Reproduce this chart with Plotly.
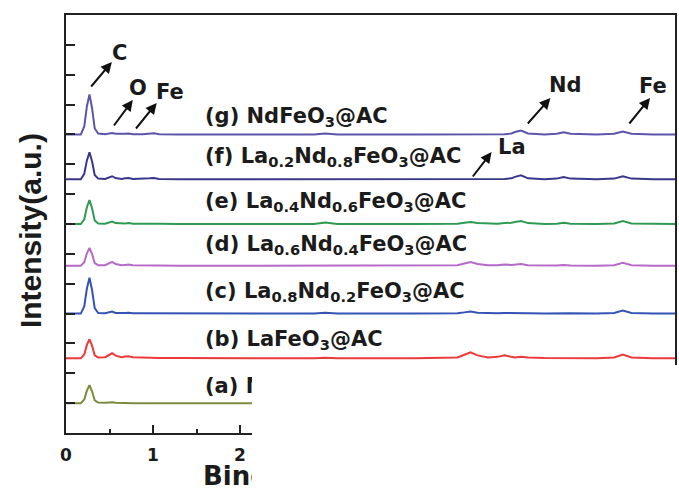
import plotly.graph_objects as go

# ---- data -------------------------------------------------------------
energy_kev = [0.00, 0.17, 0.21, 0.24, 0.27, 0.30, 0.33, 0.37, 0.45, 0.50,
              0.53, 0.57, 0.64, 0.68, 0.72, 0.77, 0.88, 0.96, 1.01, 1.07,
              1.30, 2.00, 2.85, 2.98, 3.12, 4.00, 4.50, 4.58, 4.65, 4.73,
              4.85, 4.96, 5.04, 5.12, 5.16, 5.23, 5.31, 5.50, 5.64, 5.72,
              5.80, 6.10, 6.30, 6.40, 6.50, 6.75, 7.00]

sample_names = ["a", "b", "c", "d", "e", "f", "g"]
sample_labels = [
    "(a) MAC",
    "(b) LaFeO<sub>3</sub>@AC",
    "(c) La<sub>0.8</sub>Nd<sub>0.2</sub>FeO<sub>3</sub>@AC",
    "(d) La<sub>0.6</sub>Nd<sub>0.4</sub>FeO<sub>3</sub>@AC",
    "(e) La<sub>0.4</sub>Nd<sub>0.6</sub>FeO<sub>3</sub>@AC",
    "(f) La<sub>0.2</sub>Nd<sub>0.8</sub>FeO<sub>3</sub>@AC",
    "(g) NdFeO<sub>3</sub>@AC",
]
offsets = [1.0, 2.5, 4.0, 5.6, 7.0, 8.5, 10.0]

counts_a = [0, 0, 0.12, 0.42, 0.60, 0.39, 0.09, 0.02, 0.01, 0.02,
            0.03, 0.01, 0, 0, 0.01, 0, 0, 0, 0, 0,
            0, 0, 0, 0, 0, 0, 0, 0, 0, 0,
            0, 0, 0, 0, 0, 0, 0, 0, 0, 0,
            0, 0, 0, 0, 0, 0, 0]
counts_b = [0, 0, 0.13, 0.45, 0.64, 0.42, 0.10, 0.03, 0.04, 0.12,
            0.17, 0.09, 0.04, 0.06, 0.07, 0.04, 0.02, 0.02, 0.02, 0.01,
            0.01, 0, 0, 0.02, 0, 0, 0.03, 0.12, 0.20, 0.10,
            0.03, 0.05, 0.10, 0.05, 0.03, 0.05, 0.03, 0.01, 0.01, 0.02,
            0.01, 0, 0.03, 0.13, 0.03, 0, 0]
counts_c = [0, 0, 0.24, 0.84, 1.20, 0.78, 0.18, 0.02, 0.01, 0.04,
            0.07, 0.02, 0.01, 0.02, 0.03, 0.01, 0.01, 0.01, 0.01, 0,
            0, 0, 0, 0.03, 0, 0, 0.01, 0.04, 0.07, 0.03,
            0.01, 0.01, 0.02, 0.02, 0.02, 0.03, 0.01, 0, 0.01, 0.02,
            0.01, 0, 0.02, 0.10, 0.02, 0, 0]
counts_d = [0, 0, 0.12, 0.42, 0.60, 0.39, 0.09, 0.02, 0.02, 0.08,
            0.13, 0.06, 0.02, 0.03, 0.04, 0.02, 0.01, 0.01, 0.02, 0.01,
            0, 0, 0, 0.02, 0, 0, 0.02, 0.08, 0.13, 0.06,
            0.02, 0.02, 0.04, 0.03, 0.05, 0.06, 0.02, 0, 0.01, 0.03,
            0.01, 0, 0.02, 0.10, 0.02, 0, 0]
counts_e = [0, 0, 0.16, 0.56, 0.80, 0.52, 0.12, 0.02, 0.01, 0.04,
            0.08, 0.03, 0.01, 0.02, 0.03, 0.01, 0.01, 0.02, 0.02, 0.01,
            0, 0, 0, 0.05, 0, 0, 0.01, 0.04, 0.07, 0.03,
            0.01, 0.01, 0.03, 0.04, 0.07, 0.10, 0.03, 0, 0.01, 0.04,
            0.01, 0, 0.02, 0.10, 0.02, 0, 0]
counts_f = [0, 0, 0.18, 0.63, 0.90, 0.59, 0.14, 0.02, 0.01, 0.06,
            0.10, 0.04, 0.01, 0.03, 0.04, 0.01, 0.01, 0.03, 0.04, 0.01,
            0, 0, 0, 0.02, 0, 0, 0, 0.01, 0.02, 0.01,
            0, 0, 0.01, 0.03, 0.08, 0.13, 0.03, 0, 0.02, 0.07,
            0.02, 0, 0.02, 0.10, 0.02, 0, 0]
counts_g = [0, 0, 0.27, 0.94, 1.34, 0.87, 0.20, 0.03, 0.01, 0.03,
            0.05, 0.02, 0.01, 0.02, 0.03, 0.01, 0.01, 0.03, 0.04, 0.01,
            0, 0, 0, 0.03, 0, 0, 0, 0.01, 0.01, 0,
            0, 0, 0.01, 0.03, 0.08, 0.13, 0.03, 0, 0.02, 0.07,
            0.02, 0, 0.02, 0.10, 0.02, 0, 0]
all_counts = [counts_a, counts_b, counts_c, counts_d, counts_e, counts_f, counts_g]

# only 0, 1, 2 are visible in the reference (the rest is blanked out)
x_tick_vals = [0, 1, 2]
x_tick_text = ["0", "1", "2"]

element_labels = ["C", "O", "Fe", "Nd", "Fe", "La"]

# ---- styling ----------------------------------------------------------
colors = ["#7b8b3c", "#ec3a3a", "#3553b5", "#b66ac8", "#2f9a52", "#3a378a", "#5b55aa"]
W, H = 679, 488
ML, MR, MT, MB = 66, 2, 15, 55
XMAX, YMAX = 7.0, 14.0
pw, ph = W - ML - MR, H - MT - MB


def px2x(px):
    return (px - ML) / pw * XMAX


def px2y(py):
    return (H - MB - py) / ph * YMAX


fig = go.Figure()
for name, cnt, off, col in zip(sample_names, all_counts, offsets, colors):
    if len(cnt) != len(energy_kev):
        raise ValueError(name)
    fig.add_trace(go.Scatter(
        x=energy_kev, y=[off + c for c in cnt], mode="lines", name=name,
        line=dict(color=col, width=2), showlegend=False, hoverinfo="skip"))

annotations = []
text_col = "#1b1b1b"
label_font = dict(family="DejaVu Sans", size=21, color=text_col, weight="bold")

label_cap_centers = [384, 338, 290, 243, 200, 155, 115]
for lab, cy in zip(sample_labels, label_cap_centers):
    annotations.append(dict(
        x=px2x(203), y=px2y(cy + 2), xref="x", yref="y", text=lab,
        showarrow=False, xanchor="left", yanchor="middle", font=label_font))

# arrows: (tail px, head px)
arrows_px = [((90, 88), (112, 62)), ((113, 127), (133, 100)),
             ((135, 130), (157, 103)), ((528, 125), (552, 98)),
             ((630, 125), (652, 98)), ((473, 178), (493, 152))]
elem_centers_px = [(120, 53), (138, 88), (170, 92), (567, 85), (655, 86), (513, 147)]

for (t, h) in arrows_px:
    annotations.append(dict(
        x=px2x(h[0]), y=px2y(h[1]), ax=px2x(t[0]), ay=px2y(t[1]),
        xref="x", yref="y", axref="x", ayref="y", text="", showarrow=True,
        arrowhead=2, arrowsize=1.1, arrowwidth=2, arrowcolor="#111111"))
for el, (cx, cy) in zip(element_labels, elem_centers_px):
    annotations.append(dict(
        x=px2x(cx), y=px2y(cy), xref="x", yref="y", text=el, showarrow=False,
        xanchor="center", yanchor="middle",
        font=dict(family="DejaVu Sans", size=21, color=text_col, weight="bold")))

# axis titles
annotations.append(dict(
    x=(30 - ML) / pw, y=(H - MB - 231) / ph, xref="paper", yref="paper",
    text="Intensity(a.u.)", textangle=-90, showarrow=False,
    xanchor="center", yanchor="middle",
    font=dict(family="Liberation Sans", size=30, color=text_col, weight="bold")))
annotations.append(dict(
    x=(201 - ML) / pw, y=(H - MB - 476) / ph, xref="paper", yref="paper",
    text="Binding Energy", showarrow=False,
    xanchor="left", yanchor="middle",
    font=dict(family="DejaVu Sans", size=26, color=text_col, weight="bold")))

# white occluding area of the reference (lower right corner is blank)
annotations.append(dict(
    x=(253 - ML) / pw, y=(H - MB - 365) / ph, xref="paper", yref="paper",
    text=" ", showarrow=False, xanchor="left", yanchor="top",
    width=440, height=130, bgcolor="white", borderpad=0, borderwidth=0))

fig.update_layout(
    width=W, height=H, margin=dict(l=ML, r=MR, t=MT, b=MB),
    paper_bgcolor="white", plot_bgcolor="white",
    annotations=annotations,
    xaxis=dict(range=[0, XMAX], tickvals=x_tick_vals, ticktext=x_tick_text,
               ticks="inside", ticklen=8, tickwidth=2, tickcolor="#222",
               showline=True, linewidth=2, linecolor="#222", mirror=True,
               showgrid=False, zeroline=False, ticklabelstandoff=6,
               tickfont=dict(family="DejaVu Sans", size=17, color=text_col, weight="bold"),
               minor=dict(dtick=0.5, ticks="inside", ticklen=4, tickwidth=2, tickcolor="#222")),
    yaxis=dict(range=[0, YMAX], dtick=1, ticks="inside", ticklen=9, tickwidth=2,
               tickcolor="#222", showticklabels=False,
               showline=True, linewidth=2, linecolor="#222", mirror=True,
               showgrid=False, zeroline=False),
)

fig.write_html("out.html", config={"displayModeBar": False},
               post_script="document.body.style.margin='0';document.body.style.padding='0';")
